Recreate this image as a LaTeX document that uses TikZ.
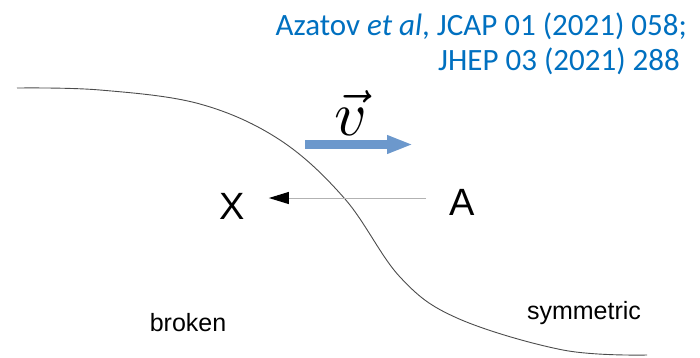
\documentclass[tikz,border=0pt]{standalone}
\usepackage{fontspec}
\usepackage{graphicx}
\setmainfont{Liberation Sans}
\newfontfamily\calibri{Carlito}
\usetikzlibrary{arrows.meta}
\definecolor{refblue}{RGB}{0,112,192}
\definecolor{velblue}{RGB}{108,152,204}
\tikzset{
  reftext/.style={anchor=base east, inner sep=0pt, text=refblue,
    font=\calibri\fontsize{31}{31}\selectfont},
  particle/.style={inner sep=0pt, font=\fontsize{38}{38}\selectfont},
  phase/.style={anchor=base, inner sep=0pt, font=\fontsize{25}{25}\selectfont},
  wall/.style={draw=black!70, line width=0.9pt},
  fluxarrow/.style={draw=black!30, line width=1pt,
    -{Triangle[length=20pt,width=12pt,color=black]}},
  velarrow/.style={draw=velblue, line width=9.5pt,
    -{Triangle[length=26pt,width=17pt]}}
}
\begin{document}
\begin{tikzpicture}[x=1pt,y=-1pt]
\useasboundingbox (0,0) rectangle (700,357);

% reference lines
\node[reftext] (ref1) at (687,35) {Azatov \textit{et al}, JCAP 01 (2021) 058;};
\node[reftext] (ref2) at (680,70) {JHEP 03 (2021) 288};

% bubble wall profile
\draw[wall] plot[smooth, tension=0.6] coordinates {
  (17,88) (100,90) (200,104) (280,140) (345,199) (400,277)
  (457,318) (563,350) (647,355)};

% wall velocity
\node[inner sep=0pt] (v) at (351,113) {\scalebox{6.3}{$\vec{v}$}};
\coordinate (vs) at (305,144.5);
\coordinate (ve) at (413,144.5);
\draw[velarrow] (vs) -- (ve);

% particles
\node[particle] (X) at (232,206.5) {X};
\node[particle] (A) at (462,202) {A};
\draw[fluxarrow] ([shift={(-23,-4)}]A.west) -- ([shift={(24,-8.5)}]X.east);

% phases
\node[phase] (broken) at (188,331) {broken};
\node[phase] (sym) at (584,319) {symmetric};
\end{tikzpicture}
\end{document}
